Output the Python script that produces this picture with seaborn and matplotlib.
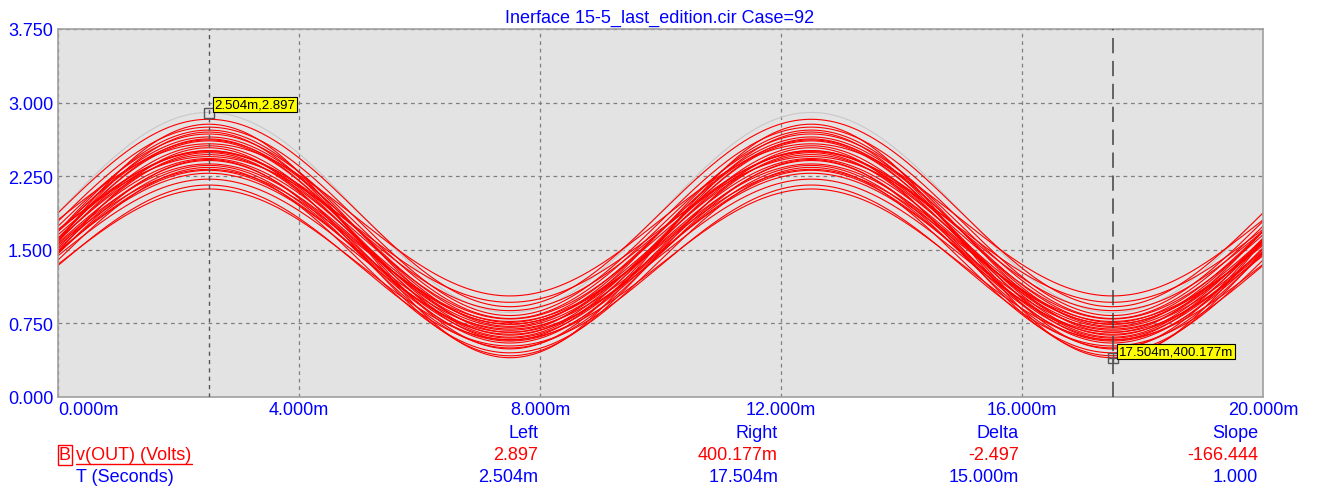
import numpy as np
import pandas as pd
import matplotlib.pyplot as plt
import seaborn as sns
from matplotlib.lines import Line2D

# Monte Carlo runs: peak (at 2.5m / 12.5m) and trough (at 7.5m / 17.5m)
peak_vals = [2.90, 2.83, 2.78, 2.75, 2.70, 2.65, 2.61, 2.58, 2.54, 2.51,
             2.49, 2.45, 2.41, 2.375, 2.34, 2.32, 2.28, 2.22, 2.16, 2.12,
             2.63, 2.62, 2.51, 2.50, 2.42, 2.43, 2.56, 2.31, 2.68, 2.47, 2.36, 2.72]
trough_vals = [0.86, 0.92, 0.40, 0.83, 0.49, 0.72, 0.63, 1.03, 0.42, 0.795,
               0.55, 0.965, 0.60, 0.744, 0.45, 0.77, 0.693, 0.66, 0.52, 0.584,
               0.58, 0.76, 0.68, 0.88, 0.50, 0.71, 0.61, 0.64, 0.80, 0.74, 0.57, 0.66]
case_ids = list(range(1, len(peak_vals) + 1))
case_colors = ['#C8C8C8'] + ['#FF0000'] * (len(peak_vals) - 1)
period_ms = 10.0

# cursors
cursor_t = [2.504, 17.504]
cursor_v = [2.897, 0.400177]
cursor_text = ['2.504m,2.897', '17.504m,400.177m']

# readout table
col_heads = ['Left', 'Right', 'Delta', 'Slope']
row_v = ['2.897', '400.177m', '-2.497', '-166.444']
row_t = ['2.504m', '17.504m', '15.000m', '1.000']

x_ticks = [0, 4, 8, 12, 16, 20]
y_ticks = [0, 0.75, 1.5, 2.25, 3.0, 3.75]

t_ms = np.linspace(0, 20, 801)
frames = []
for cid, p, tr in zip(case_ids, peak_vals, trough_vals):
    off = (p + tr) / 2
    amp = (p - tr) / 2
    frames.append(pd.DataFrame({'t': t_ms, 'v': off + amp * np.sin(2 * np.pi * t_ms / period_ms), 'case': cid}))
df = pd.concat(frames, ignore_index=True)
pal = dict(zip(case_ids, case_colors))

sns.set_theme(style='white')
plt.rcParams['font.family'] = ['Liberation Sans', 'DejaVu Sans']

W, H = 1318, 489
fig = plt.figure(figsize=(W / 100, H / 100), dpi=100)
ax = fig.add_axes([58 / W, (H - 398) / H, 1205 / W, 368 / H])
ax.set_facecolor('#E3E3E3')

sns.lineplot(data=df, x='t', y='v', hue='case', palette=pal, hue_order=case_ids,
             estimator=None, sort=False, legend=False, linewidth=0.8, ax=ax)

ax.set_xlim(0, 20)
ax.set_ylim(0, 3.75)
ax.set_xticks(x_ticks)
ax.set_yticks(y_ticks)
ax.set_xticklabels([f'{v:.3f}m' for v in x_ticks])
ax.set_yticklabels([f'{v:.3f}' for v in y_ticks])
ax.get_xticklabels()[0].set_horizontalalignment('left')
ax.tick_params(axis='both', length=0, labelsize=13, colors='#0000FF')
ax.tick_params(axis='y', pad=3.5)
ax.tick_params(axis='x', pad=3)
ax.set_xlabel('')
ax.set_ylabel('')
ax.grid(True, color='#808080', linestyle=(0, (3, 3)), linewidth=0.9)
for s in ax.spines.values():
    s.set_color('#A0A0A0')
    s.set_linewidth(1.2)

# cursors
ax.axvline(cursor_t[0], color='#555555', linestyle=(0, (3, 3)), linewidth=1, zorder=3)
ax.axvline(cursor_t[1], color='#404040', linestyle=(0, (10, 5)), linewidth=1.1, zorder=3)
ax.plot(cursor_t[0], cursor_v[0], marker='s', ms=7, mfc='none', mec='#555555', mew=1, zorder=4)
ax.plot(cursor_t[1], cursor_v[1], marker='s', ms=7, mfc='none', mec='#555555', mew=1, zorder=4)
ax.plot(cursor_t[1], cursor_v[1], marker='+', ms=7, mec='#555555', mew=1, zorder=4)
offsets = [(4, 1.5), (4.5, 0)]
for tx, vy, lab, off in zip(cursor_t, cursor_v, cursor_text, offsets):
    ax.annotate(lab, (tx, vy), xytext=off, textcoords='offset points', ha='left', va='bottom',
                fontsize=9.5, color='black', zorder=6,
                bbox=dict(boxstyle='square,pad=0.12', facecolor='#FFFF00', edgecolor='black', linewidth=0.8))

fig.text(660 / W, 1 - 18 / H, 'Inerface 15-5_last_edition.cir Case=92',
         ha='center', va='center', color='#0000FF', fontsize=13)

# readout table below the plot
col_right = [538, 778, 1019, 1258]
def fy(y):
    return 1 - y / H
for xr, head, a, b in zip(col_right, col_heads, row_v, row_t):
    fig.text(xr / W, fy(434), head, ha='right', va='center', color='#0000FF', fontsize=13)
    fig.text(xr / W, fy(456), a, ha='right', va='center', color='#FF0000', fontsize=13)
    fig.text(xr / W, fy(478), b, ha='right', va='center', color='#0000FF', fontsize=13)

fig.text(65 / W, fy(456), 'B', ha='center', va='center', color='#FF0000', fontsize=13,
         bbox=dict(boxstyle='square,pad=0.08', facecolor='none', edgecolor='#FF0000', linewidth=1))
fig.text(76 / W, fy(456), 'v(OUT) (Volts)', ha='left', va='center', color='#FF0000', fontsize=13)
fig.add_artist(Line2D([76 / W, 192 / W], [fy(465), fy(465)], color='#FF0000', linewidth=1))
fig.text(76 / W, fy(478), 'T (Seconds)', ha='left', va='center', color='#0000FF', fontsize=13)

fig.savefig('out.png', dpi=100, facecolor='white')
